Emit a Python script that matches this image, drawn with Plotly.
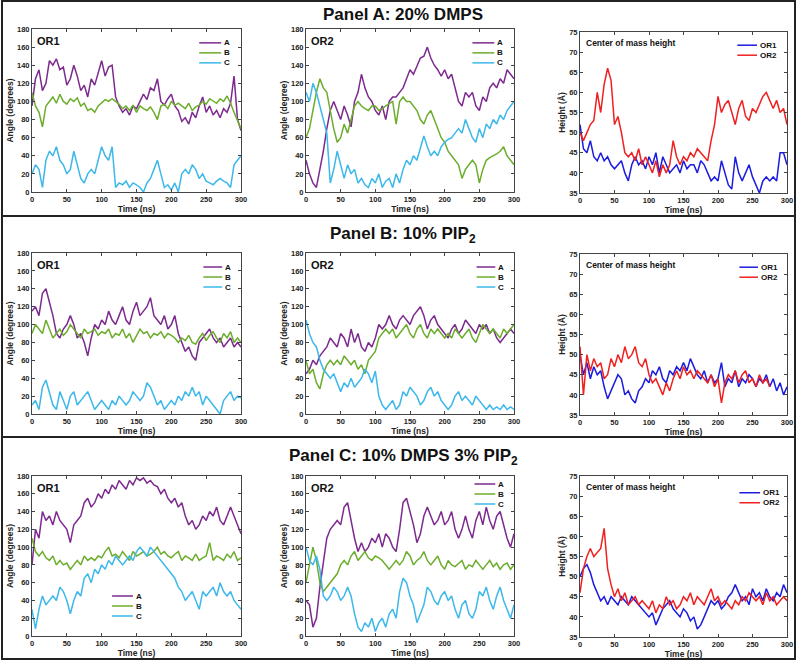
import plotly.graph_objects as go

# ---------------- DATA (5 ns sampling) ----------------
time_ns = list(range(0, 301, 5))
x_ticks = [0, 50, 100, 150, 200, 250, 300]
angle_ticks = [0, 20, 40, 60, 80, 100, 120, 140, 160, 180]
height_ticks = [35, 40, 45, 50, 55, 60, 65, 70, 75]

panel_titles = ["Panel A: 20% DMPS", "Panel B: 10% PIP<sub>2</sub>", "Panel C: 10% DMPS 3% PIP<sub>2</sub>"]
angle_series_names = ["A", "B", "C"]
height_series_names = ["OR1", "OR2"]

# Panel A, OR1 angles
pa_or1_A = [95,125,135,112,120,145,140,147,135,138, 118,125,140,128,112,118,105,125,118,132,
            145,128,138,140,105,95,88,92,85,95, 92,100,108,102,115,112,125,100,96,103,
            108,95,90,78,82,75,88,82,95,105, 88,95,85,90,82,92,88,98,128,80, 68]
pa_or1_B = [110,95,88,72,95,100,105,98,108,100, 97,103,100,104,95,98,90,92,88,95,
            98,102,100,103,100,97,92,95,90,96, 88,95,92,90,94,88,80,95,97,92,
            100,96,98,95,92,98,90,94,96,100, 97,103,100,98,103,100,106,98,88,78, 70]
pa_or1_C = [20,30,25,5,35,45,40,50,35,30, 20,25,45,30,15,10,20,25,20,35,
            50,40,35,50,5,10,8,12,5,10, 8,5,0,10,15,25,35,20,5,8,
            2,10,0,20,25,20,30,25,15,20, 12,10,8,12,15,12,10,5,30,35, 40]
# Panel A, OR2 angles
pa_or2_A = [35,20,10,5,25,45,70,90,100,90, 80,95,85,72,100,110,130,115,105,100,
            90,85,95,80,100,105,105,110,115,125, 135,130,140,148,150,160,148,140,135,128,
            135,125,130,115,100,95,110,105,110,95, 90,105,100,115,120,115,125,120,135,130, 125]
pa_or2_B = [60,70,90,110,125,115,110,90,70,55, 60,75,65,80,95,100,95,92,90,95,
            95,90,92,95,98,100,75,100,105,100, 100,95,90,80,75,85,90,80,70,60,
            55,45,40,35,30,15,25,30,35,30, 10,25,35,38,40,42,45,50,40,35, 30]
pa_or2_C = [110,100,120,110,95,80,65,10,25,45, 30,15,30,20,25,10,15,8,5,15,
            10,20,5,12,15,5,20,10,25,35, 30,40,35,50,62,50,40,45,40,50,
            55,58,60,65,70,65,80,70,60,55, 70,60,75,70,80,75,85,80,90,95, 100]
# Panel A, centre of mass height
pa_com_or1 = [52,46,45,48,44,43,45,43,44,42, 41,42,43,40,38,42,44,42,43,41,
              44,42,45,40,44,42,40,41,42,40, 43,41,42,42,40,43,42,40,38,39,
              38,43,40,37,36,44,40,38,40,42, 39,37,35,38,39,38,39,38,45,45, 42]
pa_com_or2 = [50,48,50,52,53,60,55,62,66,63, 52,54,50,45,44,45,43,46,42,44,
              42,40,43,39,42,40,42,48,44,42, 44,43,45,44,46,45,44,43,48,52,
              59,55,57,58,55,52,56,58,54,53, 56,55,57,59,60,58,56,58,55,56, 52]

# Panel B, OR1 angles
pb_or1_A = [115,120,110,135,140,125,110,90,85,95, 100,110,100,85,90,80,65,85,100,95,
            105,100,115,105,100,110,120,105,100,115, 125,110,115,120,130,110,105,100,110,95,
            100,110,90,80,70,75,65,60,80,85, 90,95,85,80,85,75,80,85,75,80, 75]
pb_or1_B = [90,100,95,90,105,95,85,90,95,88, 92,100,95,90,85,95,90,92,95,88,
            92,90,95,85,90,88,95,85,90,80, 88,95,90,92,85,90,88,92,85,90,
            88,85,80,85,82,88,80,78,85,90, 82,88,92,85,80,90,85,92,80,85, 80]
pb_or1_C = [10,15,5,30,38,25,10,5,25,15, 5,20,25,10,15,20,25,15,5,10,
            15,10,5,15,10,20,15,10,15,25, 20,15,20,35,30,20,10,15,5,10,
            15,10,20,15,25,20,30,20,25,10, 20,15,10,5,0,15,20,25,15,20, 18]
# Panel B, OR2 angles
pb_or2_A = [45,50,60,55,65,70,75,85,80,75, 90,85,75,95,80,90,75,70,80,75,
            85,100,95,100,110,100,95,105,110,105, 100,110,115,120,110,95,105,110,100,95,
            90,85,95,100,90,95,105,100,95,90, 100,95,100,90,95,85,80,85,90,95, 90]
pb_or2_B = [60,45,50,35,28,45,55,60,55,60, 55,65,60,55,60,50,55,45,60,65,
            70,85,90,95,90,95,85,90,95,100, 90,85,95,100,90,85,95,90,95,90,
            85,90,85,95,90,85,90,95,85,80, 90,100,95,90,95,90,85,95,90,95, 100]
pb_or2_C = [105,90,80,75,60,50,45,40,45,35, 25,35,30,40,30,35,40,50,45,35,
            48,20,10,5,10,15,5,10,25,20, 30,25,20,10,15,25,30,20,25,15,
            10,5,10,20,25,15,20,15,10,20, 15,10,5,10,5,8,5,10,5,8, 5]
# Panel B, centre of mass height
pb_com_or1 = [50,45,48,44,47,45,46,42,39,41, 43,45,44,40,41,39,38,41,42,44,
              43,46,45,47,44,43,46,45,47,46, 48,46,49,47,45,44,46,43,45,43,
              44,48,42,44,43,46,42,44,43,45, 44,42,44,43,45,42,44,41,43,40, 42]
pb_com_or2 = [52,40,50,46,49,47,48,44,45,49, 47,50,48,52,49,50,52,48,47,49,
              45,43,44,42,40,43,41,44,46,44, 47,45,46,44,46,45,44,43,45,42,
              44,38,43,45,44,46,43,45,46,43, 44,42,45,43,44,42,None,None,None,None, None]

# Panel C, OR1 angles
pc_or1_A = [80,120,110,140,130,135,125,140,130,125, 120,105,125,130,135,150,155,145,150,160,
            155,165,160,170,165,175,170,165,175,170, 178,175,178,172,175,170,168,160,165,155,
            150,155,145,150,135,125,130,120,125,135, 130,140,135,145,130,125,135,145,135,125, 115]
pc_or1_B = [110,95,90,95,88,85,90,80,85,80, 82,75,80,85,80,90,85,88,85,90,
            88,95,100,90,92,88,95,90,85,95, 90,92,95,90,92,95,100,92,95,90,
            88,92,95,85,90,88,85,92,85,88, 90,105,85,90,88,85,92,88,95,85, 88]
pc_or1_C = [30,8,30,45,35,40,45,40,55,50, 40,25,40,50,45,65,70,60,75,70,
            80,75,85,80,90,85,80,85,90,85, 95,100,95,90,100,95,90,85,80,75,
            70,65,55,50,40,45,50,40,30,50, 45,50,55,45,60,50,45,50,40,35, 30]
# Panel C, OR2 angles
pc_or2_A = [40,35,10,20,55,80,110,120,125,130, 125,145,150,130,110,95,105,95,100,110,
            105,115,100,115,110,100,95,120,150,155, 140,125,105,115,135,145,135,125,130,140,
            125,130,140,120,110,120,135,120,110,130, 140,125,145,130,120,135,140,125,110,100, 115]
pc_or2_B = [60,80,100,85,60,50,55,60,65,70, 80,85,80,90,95,85,90,95,88,85,
            90,88,85,80,75,80,85,80,85,95, 90,80,85,88,95,85,80,85,90,80,
            75,85,80,78,82,85,75,80,78,85, 80,75,80,85,78,82,75,80,82,75, 80]
pc_or2_C = [100,85,80,90,75,45,40,45,55,50, 40,45,55,45,25,10,5,15,10,20,
            5,15,20,10,25,30,20,50,65,60, 45,35,15,25,35,55,50,40,35,45,
            50,40,45,30,20,35,40,25,20,30, 50,45,55,40,30,45,55,40,30,20, 35]
# Panel C, centre of mass height
pc_com_or1 = [50,52,53,51,48,46,44,45,43,45, 44,43,45,44,43,45,44,43,42,41,
              40,41,38,40,42,43,44,42,41,40, 42,41,39,40,37,38,40,42,44,43,
              44,42,43,45,46,48,46,44,45,43, 47,45,46,44,47,45,44,46,45,48, 46]
pc_com_or2 = [46,52,55,57,55,56,57,62,52,48, 45,47,44,46,43,44,45,43,44,43,
              42,44,41,43,42,45,43,44,42,43, 45,44,46,43,45,44,43,45,47,44,
              45,43,44,43,42,44,43,45,44,46, 45,44,45,43,46,44,45,43,44,45, 44]

# ---------------- STYLE / LAYOUT ----------------
W, H = 800, 662
FONT = "Liberation Sans"
COL_A, COL_B, COL_C = "#7d2a8f", "#6cad2c", "#3cb8ea"
COL_OR1, COL_OR2 = "#1c1ce0", "#f02020"

# pixel boxes of the nine plot areas (left, right, top, bottom)
boxes = [(32, 241, 29, 192), (306, 514, 29, 192), (580, 787, 32, 193),
         (32, 241, 253, 414), (306, 514, 253, 414), (580, 787, 254, 415),
         (32, 241, 476, 636), (306, 514, 476, 636), (580, 787, 476, 637)]

subplots = [
    ("OR1", "Angle (degrees)", [pa_or1_A, pa_or1_B, pa_or1_C]),
    ("OR2", "Angle (degree)", [pa_or2_A, pa_or2_B, pa_or2_C]),
    ("COM", "Height (Å)", [pa_com_or1, pa_com_or2]),
    ("OR1", "Angle (degrees)", [pb_or1_A, pb_or1_B, pb_or1_C]),
    ("OR2", "Angle (degrees)", [pb_or2_A, pb_or2_B, pb_or2_C]),
    ("COM", "Height (Å)", [pb_com_or1, pb_com_or2]),
    ("OR1", "Angle (degrees)", [pc_or1_A, pc_or1_B, pc_or1_C]),
    ("OR2", "Angle (degrees)", [pc_or2_A, pc_or2_B, pc_or2_C]),
    ("COM", "Height (Å)", [pc_com_or1, pc_com_or2]),
]

# legend placement in axis-domain fractions: (x0, x1, top row y)
legend_pos = [
    (0.80, 0.905, 0.915),
    (0.80, 0.905, 0.915),
    (0.76, 0.855, 0.918),
    (0.82, 0.91, 0.913),
    (0.82, 0.91, 0.913),
    (0.77, 0.86, 0.918),
    (0.383, 0.483, 0.25),
    (0.81, 0.91, 0.95),
    (0.77, 0.87, 0.896),
]
ROW_PX = 10

fig = go.Figure()
shapes = []
annotations = []
layout = {}

for i, (kind, ytitle, series) in enumerate(subplots, start=1):
    sfx = "" if i == 1 else str(i)
    xa, ya = "x" + sfx, "y" + sfx
    l, r, t, b = boxes[i - 1]
    is_com = kind == "COM"
    if is_com:
        names, colors = height_series_names, [COL_OR1, COL_OR2]
    else:
        names, colors = angle_series_names, [COL_A, COL_B, COL_C]
    for name, col, vals in zip(names, colors, series):
        fig.add_trace(go.Scatter(x=time_ns, y=vals, mode="lines", name=name,
                                 line=dict(color=col, width=1.5), xaxis=xa, yaxis=ya,
                                 showlegend=False, connectgaps=False))
    common = dict(showline=True, linecolor="#444", linewidth=1, mirror="ticks",
                  ticks="inside", ticklen=3, tickcolor="#444", showgrid=False,
                  zeroline=False, automargin=False,
                  tickfont=dict(family=FONT, size=7.5, color="#222", weight="bold"))
    layout["xaxis" + sfx] = dict(common, domain=[l / W, r / W], anchor=ya, range=[0, 300],
                                 tickvals=x_ticks,
                                 title=dict(text="<b>Time (ns)</b>", standoff=0,
                                            font=dict(family=FONT, size=8.5, color="#222")))
    layout["yaxis" + sfx] = dict(common, domain=[1 - b / H, 1 - t / H], anchor=xa,
                                 range=[35, 75] if is_com else [0, 180],
                                 tickvals=height_ticks if is_com else angle_ticks,
                                 title=dict(text="<b>" + ytitle + "</b>", standoff=2,
                                            font=dict(family=FONT, size=8.5, color="#222")))
    # in-plot label
    annotations.append(dict(text="<b>Center of mass height</b>" if is_com else "<b>" + kind + "</b>",
                            xref=xa + " domain", yref=ya + " domain",
                            x=0.02 if is_com else 0.015, y=0.975, xanchor="left", yanchor="top",
                            showarrow=False,
                            font=dict(family=FONT, size=8.5 if is_com else 11, color="#111")))
    # hand-drawn legend
    x0, x1, ytop = legend_pos[i - 1]
    step = ROW_PX / (b - t)
    for k, (name, col) in enumerate(zip(names, colors)):
        yy = ytop - k * step
        shapes.append(dict(type="line", xref=xa + " domain", yref=ya + " domain",
                           x0=x0, x1=x1, y0=yy, y1=yy, line=dict(color=col, width=1.5)))
        annotations.append(dict(text="<b>" + name + "</b>", xref=xa + " domain", yref=ya + " domain",
                                x=x1 + 0.008, y=yy, xanchor="left", yanchor="middle",
                                showarrow=False, borderpad=0,
                                font=dict(family=FONT, size=8, color="#111")))

# panel titles
for txt, py in zip(panel_titles, [15, 235, 457]):
    annotations.append(dict(text="<b>" + txt + "</b>", xref="paper", yref="paper",
                            x=403 / W, y=1 - py / H, xanchor="center", yanchor="middle",
                            showarrow=False, font=dict(family=FONT, size=17, color="#111")))

# panel frames
shapes.append(dict(type="rect", xref="paper", yref="paper", x0=2 / W, x1=795 / W,
                   y0=1 - 659 / H, y1=1 - 1 / H, line=dict(color="#222", width=2)))
for py in [216, 437]:
    shapes.append(dict(type="line", xref="paper", yref="paper", x0=2 / W, x1=795 / W,
                       y0=1 - py / H, y1=1 - py / H, line=dict(color="#222", width=2)))

fig.update_layout(**layout)
fig.update_layout(width=W, height=H, margin=dict(l=0, r=0, t=0, b=0),
                  paper_bgcolor="white", plot_bgcolor="white", showlegend=False,
                  shapes=shapes, annotations=annotations)

fig.write_html("out.html", config={"displayModeBar": False},
               post_script="document.body.style.margin='0';document.body.style.overflow='hidden';"
                           "document.documentElement.style.overflow='hidden';")
